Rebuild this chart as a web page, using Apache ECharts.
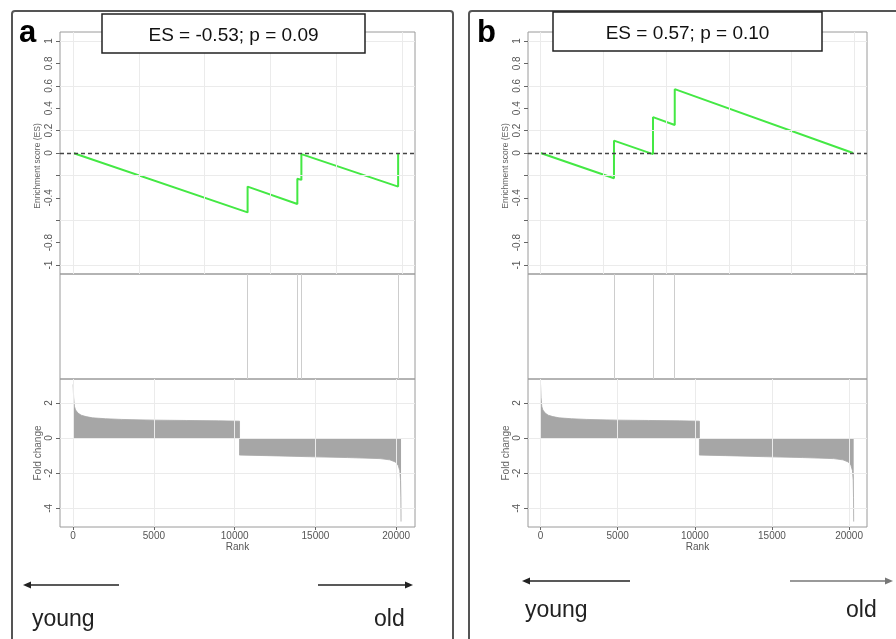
<!DOCTYPE html>
<html><head><meta charset="utf-8">
<script src="https://cdn.jsdelivr.net/npm/echarts@6/dist/echarts.min.js"></script>
<style>html,body{margin:0;padding:0;background:#fff}#c{width:896px;height:639px}</style>
</head><body><div id="c"></div>
<script>
// ---------- data ----------
const esRanksA  = [0, 10800, 10800, 13880, 13880, 14130, 14130, 20120, 20120];
const esValuesA = [0, -0.53, -0.30, -0.455, -0.23, -0.24, -0.01, -0.30, 0.0];
const hitsA     = [10800, 13880, 14130, 20120];

const esRanksB  = [0, 4760, 4760, 7290, 7290, 8700, 8700, 20260];
const esValuesB = [0, -0.225, 0.11, -0.01, 0.32, 0.25, 0.57, 0.0];
const hitsB     = [4760, 7290, 8700];

const fcRanks  = [0, 30, 80, 150, 300, 500, 800, 1200, 2000, 3000, 5000, 7000, 9000, 10300,
                  10300, 12000, 15000, 17000, 19000, 19600, 19950, 20120, 20220, 20270, 20290, 20300];
const fcValues = [3.05, 2.3, 1.8, 1.6, 1.42, 1.3, 1.22, 1.15, 1.1, 1.06, 1.02, 1.0, 0.98, 0.96,
                  -0.97, -1.0, -1.07, -1.11, -1.17, -1.24, -1.36, -1.55, -1.85, -2.4, -3.4, -4.75];

const rankTicks   = [0, 5000, 10000, 15000, 20000];
const esTicks     = [1, 0.8, 0.6, 0.4, 0.2, 0, -0.2, -0.4, -0.6, -0.8, -1];
const esHidden    = [-0.2, -0.6];
const esGridY     = [1, 0.6, 0.2, -0.2, -0.6, -1];
const esGridX     = [0, 4070, 8140, 12210, 16280, 20350];
const fcTicks     = [2, 0, -2, -4];
const titles      = ['ES = -0.53; p = 0.09', 'ES = 0.57; p = 0.10'];
const letters     = ['a', 'b'];
const esAxisName  = 'Enrichment score (ES)';
const fcAxisName  = 'Fold change';

// ---------- layout ----------
const FONT = '"Liberation Sans", Arial, sans-serif';
const X_MIN = -814, X_MAX = 21164;
const panels = [
  {left: 60, width: 355, esR: esRanksA, esV: esValuesA, hits: hitsA},
  {left: 528, width: 339, esR: esRanksB, esV: esValuesB, hits: hitsB}
];
const rows = [{top: 32, height: 242}, {top: 274, height: 105}, {top: 379, height: 148}];

const grids = [], xAxes = [], yAxes = [], series = [];
const labelStyle = {color: '#555', fontSize: 10, fontFamily: FONT};
const tickStyle = {color: '#666', width: 1};

panels.forEach((p, pi) => {
  rows.forEach((r, ri) => {
    grids.push({left: p.left, width: p.width, top: r.top, height: r.height,
      show: true, borderColor: '#9a9a9a', borderWidth: 1, backgroundColor: 'transparent'});
  });
  const gi = pi * 3;
  // x axes
  for (let k = 0; k < 3; k++) {
    const isBottom = k === 2;
    xAxes.push({
      type: 'value', gridIndex: gi + k, min: X_MIN, max: X_MAX, position: 'bottom',
      axisLine: {show: false, onZero: false}, splitLine: {show: false},
      axisTick: {show: isBottom, inside: false, length: 3, lineStyle: tickStyle, customValues: rankTicks},
      axisLabel: Object.assign({show: isBottom, margin: 4, customValues: rankTicks,
        formatter: v => String(Math.round(v))}, labelStyle),
      name: isBottom ? 'Rank' : '', nameLocation: 'middle', nameGap: 13,
      nameTextStyle: {color: '#555', fontSize: 10, fontFamily: FONT}
    });
  }
  // y axes
  yAxes.push({
    type: 'value', gridIndex: gi, min: -1.08, max: 1.08, position: 'left',
    axisLine: {show: false, onZero: false}, splitLine: {show: false},
    axisTick: {show: true, inside: false, length: 4, lineStyle: tickStyle, customValues: esTicks},
    axisLabel: Object.assign({rotate: 90, margin: 6, customValues: esTicks,
      formatter: v => esHidden.some(h => Math.abs(h - v) < 1e-9) ? '' : String(+v.toFixed(2))}, labelStyle)
  });
  yAxes.push({
    type: 'value', gridIndex: gi + 1, min: 0, max: 1, position: 'left',
    axisLine: {show: false, onZero: false}, splitLine: {show: false}, axisTick: {show: false}, axisLabel: {show: false}
  });
  yAxes.push({
    type: 'value', gridIndex: gi + 2, min: -5.06, max: 3.36, position: 'left',
    axisLine: {show: false, onZero: false}, splitLine: {show: false},
    axisTick: {show: true, inside: false, length: 4, lineStyle: tickStyle, customValues: fcTicks},
    axisLabel: Object.assign({rotate: 90, margin: 6, customValues: fcTicks}, labelStyle)
  });

  const gridLine = {color: '#ebebeb', width: 1, type: 'solid'};
  // ES gridlines
  series.push({type: 'line', xAxisIndex: gi, yAxisIndex: gi, data: [], z: 1, silent: true,
    markLine: {silent: true, symbol: ['none', 'none'], label: {show: false}, lineStyle: gridLine,
      data: esGridX.map(v => ({xAxis: v})).concat(esGridY.map(v => ({yAxis: v})))}});
  // ES curve with dashed zero line
  series.push({type: 'line', xAxisIndex: gi, yAxisIndex: gi, z: 3,
    data: p.esR.map((r, i) => [r, p.esV[i]]),
    showSymbol: false, symbol: 'none', lineStyle: {color: '#44e844', width: 2},
    markLine: {silent: true, symbol: ['none', 'none'], label: {show: false},
      lineStyle: {color: '#444', width: 1.3, type: [4, 3]}, data: [{yAxis: 0}]}});
  // hit lines
  series.push({type: 'line', xAxisIndex: gi + 1, yAxisIndex: gi + 1, data: [], z: 2, silent: true,
    markLine: {silent: true, symbol: ['none', 'none'], label: {show: false},
      lineStyle: {color: '#cdcdcd', width: 1, type: 'solid'},
      data: p.hits.map(v => ({xAxis: v}))}});
  // FC gridlines
  series.push({type: 'line', xAxisIndex: gi + 2, yAxisIndex: gi + 2, data: [], z: 1, silent: true,
    markLine: {silent: true, symbol: ['none', 'none'], label: {show: false}, lineStyle: gridLine,
      data: rankTicks.map(v => ({xAxis: v})).concat(fcTicks.map(v => ({yAxis: v})))}});
  // FC area
  series.push({type: 'line', xAxisIndex: gi + 2, yAxisIndex: gi + 2, z: 3,
    data: fcRanks.map((r, i) => [r, fcValues[i]]),
    showSymbol: false, symbol: 'none',
    lineStyle: {color: '#a6a6a6', width: 0.8},
    areaStyle: {color: '#a6a6a6', opacity: 1}});
});

// ---------- decorations ----------
function arrow(x1, x2, y, color) {
  const dir = x2 > x1 ? 1 : -1;
  return [
    {type: 'line', shape: {x1: x1, y1: y, x2: x2 - dir * 5, y2: y}, style: {stroke: color, lineWidth: 1.6}, z: 10},
    {type: 'polygon', shape: {points: [[x2, y], [x2 - dir * 8, y - 3.5], [x2 - dir * 8, y + 3.5]]}, style: {fill: color}, z: 10}
  ];
}
function vText(text, x, y, size) {
  return {type: 'text', x: x, y: y, rotation: Math.PI / 2,
    style: {text: text, font: size + 'px ' + FONT, fill: '#666', textAlign: 'center', textVerticalAlign: 'middle'}, z: 10};
}
const elements = [
  {type: 'rect', shape: {x: 12, y: 11, width: 441, height: 660, r: 3}, style: {fill: 'none', stroke: '#555', lineWidth: 2}, z: 10},
  {type: 'rect', shape: {x: 469, y: 11, width: 460, height: 660, r: 3}, style: {fill: 'none', stroke: '#555', lineWidth: 2}, z: 10},
  {type: 'text', x: 19, y: 33, style: {text: letters[0], font: 'bold 31px ' + FONT, fill: '#000', textVerticalAlign: 'middle'}, z: 10},
  {type: 'text', x: 477, y: 33, style: {text: letters[1], font: 'bold 31px ' + FONT, fill: '#000', textVerticalAlign: 'middle'}, z: 10},
  {type: 'rect', shape: {x: 102, y: 14, width: 263, height: 39}, style: {fill: '#fff', stroke: '#222', lineWidth: 1.5}, z: 10},
  {type: 'text', x: 233.5, y: 36, style: {text: titles[0], font: '19px ' + FONT, fill: '#111', textAlign: 'center', textVerticalAlign: 'middle'}, z: 11},
  {type: 'rect', shape: {x: 553, y: 12, width: 269, height: 39}, style: {fill: '#fff', stroke: '#222', lineWidth: 1.5}, z: 10},
  {type: 'text', x: 687.5, y: 34, style: {text: titles[1], font: '19px ' + FONT, fill: '#111', textAlign: 'center', textVerticalAlign: 'middle'}, z: 11},
  vText(esAxisName, 38, 166, 8.5), vText(esAxisName, 506, 166, 8.5),
  vText(fcAxisName, 38, 453, 10), vText(fcAxisName, 506, 453, 10),
  {type: 'text', x: 32, y: 620, style: {text: 'young', font: '23px ' + FONT, fill: '#222', textVerticalAlign: 'middle'}, z: 10},
  {type: 'text', x: 374, y: 620, style: {text: 'old', font: '23px ' + FONT, fill: '#222', textVerticalAlign: 'middle'}, z: 10},
  {type: 'text', x: 525, y: 611, style: {text: 'young', font: '23px ' + FONT, fill: '#222', textVerticalAlign: 'middle'}, z: 10},
  {type: 'text', x: 846, y: 611, style: {text: 'old', font: '23px ' + FONT, fill: '#222', textVerticalAlign: 'middle'}, z: 10}
].concat(arrow(119, 23, 585, '#222'), arrow(318, 413, 585, '#222'),
         arrow(630, 522, 581, '#222'), arrow(790, 893, 581, '#777'));

const chart = echarts.init(document.getElementById('c'), null, {renderer: 'canvas'});
chart.setOption({
  animation: false,
  backgroundColor: '#fff',
  grid: grids, xAxis: xAxes, yAxis: yAxes, series: series,
  graphic: {elements: elements}
});
</script>
</body></html>
